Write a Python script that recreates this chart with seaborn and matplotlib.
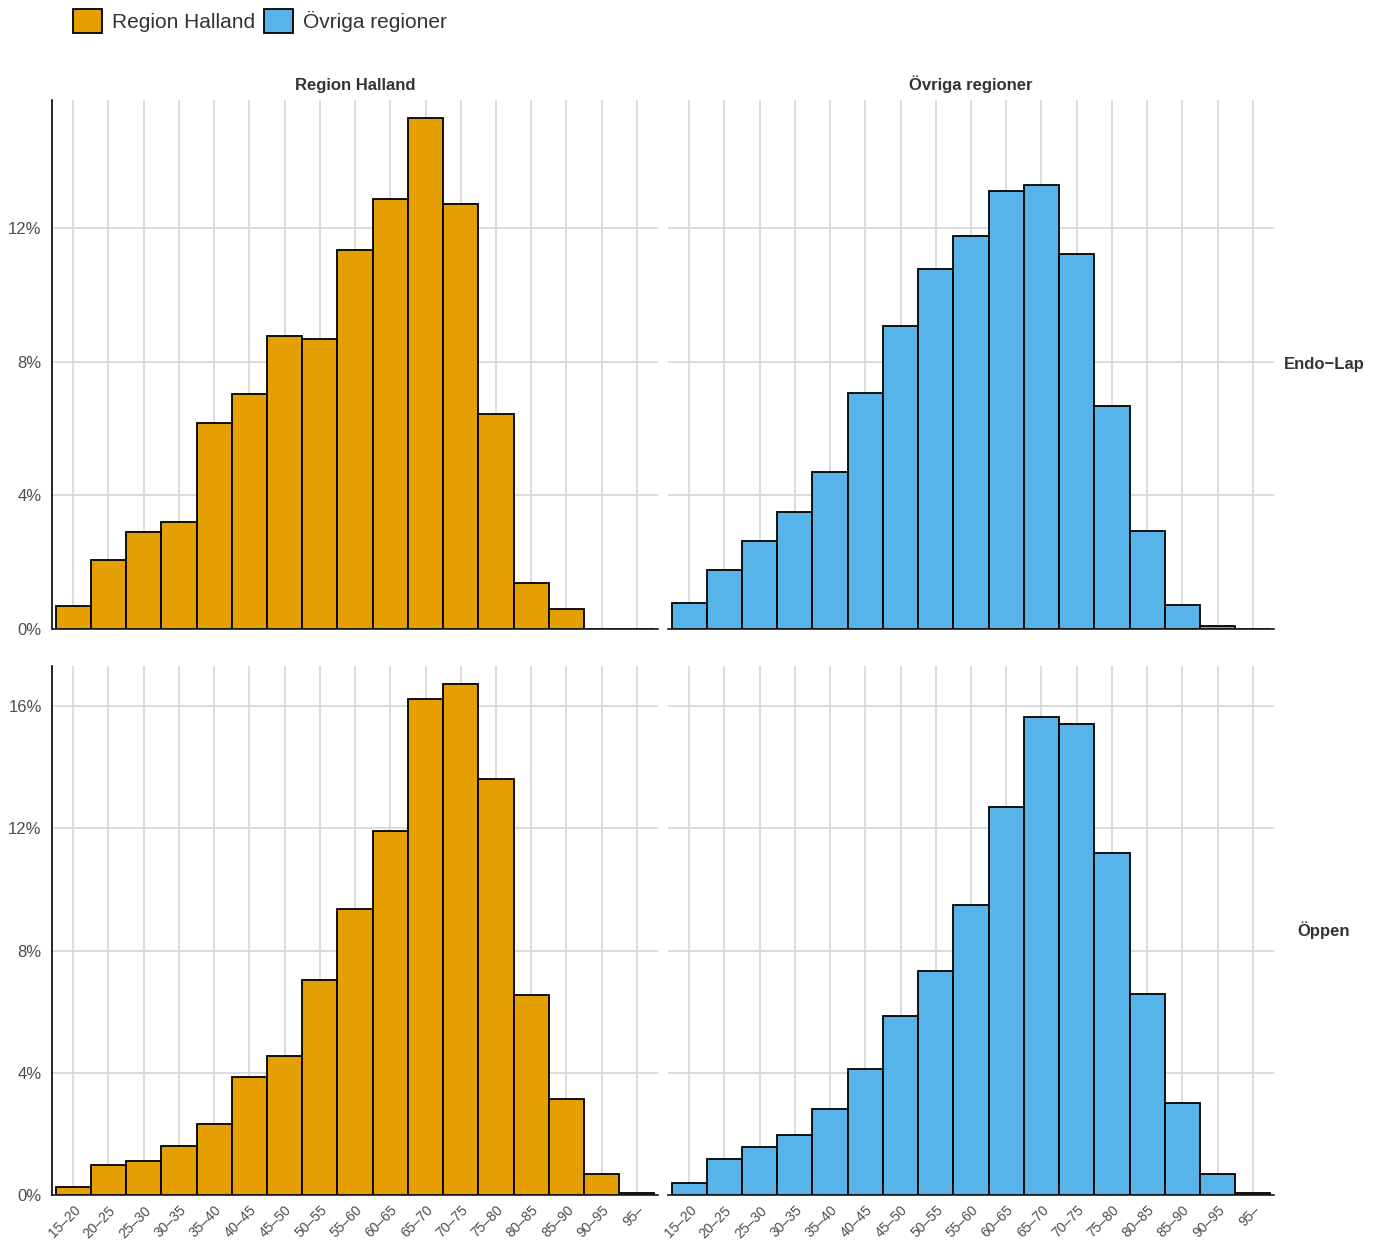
import numpy as np
import pandas as pd
import matplotlib
matplotlib.use("Agg")
import matplotlib.pyplot as plt
from matplotlib.patches import Patch
from matplotlib.ticker import FuncFormatter, MultipleLocator
import seaborn as sns

# ── Data (percent of patients per age group) ──
age_groups = ["15–20", "20–25", "25–30", "30–35", "35–40", "40–45", "45–50",
              "50–55", "55–60", "60–65", "65–70", "70–75", "75–80", "80–85",
              "85–90", "90–95", "95–"]
regions = ["Region Halland", "Övriga regioner"]
methods = ["Endo−Lap", "Öppen"]

halland_endolap = [0.70, 2.08, 2.92, 3.19, 6.18, 7.05, 8.79, 8.70, 11.36,
                   12.89, 15.31, 12.74, 6.45, 1.39, 0.61, 0.0, 0.0]
ovriga_endolap = [0.79, 1.78, 2.65, 3.49, 4.69, 7.08, 9.09, 10.79, 11.78,
                  13.13, 13.31, 11.24, 6.69, 2.95, 0.73, 0.10, 0.01]
halland_oppen = [0.26, 0.98, 1.11, 1.60, 2.32, 3.86, 4.54, 7.03, 9.35,
                 11.90, 16.24, 16.73, 13.63, 6.54, 3.14, 0.69, 0.07]
ovriga_oppen = [0.39, 1.18, 1.57, 1.96, 2.81, 4.12, 5.85, 7.32, 9.48,
                12.71, 15.65, 15.42, 11.21, 6.57, 3.01, 0.69, 0.08]

colors = {"Region Halland": "#E69F00", "Övriga regioner": "#56B4E9"}

series = {
    ("Endo−Lap", "Region Halland"): halland_endolap,
    ("Endo−Lap", "Övriga regioner"): ovriga_endolap,
    ("Öppen", "Region Halland"): halland_oppen,
    ("Öppen", "Övriga regioner"): ovriga_oppen,
}
rows = []
for (m, r), vals in series.items():
    for a, v in zip(age_groups, vals):
        rows.append({"metod": m, "region": r, "alder": a, "andel": v})
df = pd.DataFrame(rows)

# ── Plot ──
sns.set_style("white")
plt.rcParams["font.family"] = ["Liberation Sans", "DejaVu Sans"]

fig, axes = plt.subplots(2, 2, figsize=(13.81, 12.41), dpi=100)
fig.subplots_adjust(left=0.0377, right=0.9225, top=0.9194, bottom=0.0371,
                    wspace=0.0165, hspace=0.07)

grid_col = "#D9D9D9"
for i, m in enumerate(methods):
    row_max = df.loc[df.metod == m, "andel"].max()
    for j, r in enumerate(regions):
        ax = axes[i, j]
        sub = df[(df.metod == m) & (df.region == r)]
        sns.barplot(data=sub, x="alder", y="andel", order=age_groups,
                    color=colors[r], saturation=1, width=1,
                    edgecolor="black", linewidth=1.3, ax=ax)
        ax.set_xlim(-0.6, len(age_groups) - 0.4)
        ax.set_ylim(0, row_max * 1.035)
        ax.yaxis.set_major_locator(MultipleLocator(4))
        ax.yaxis.set_major_formatter(FuncFormatter(lambda v, _: f"{v:.0f}%"))
        ax.set_axisbelow(True)
        ax.grid(True, axis="both", color=grid_col, linewidth=1.3)
        ax.set_xlabel("")
        ax.set_ylabel("")
        for s in ["top", "right"]:
            ax.spines[s].set_visible(False)
        ax.spines["bottom"].set_color("#1A1A1A")
        ax.spines["bottom"].set_linewidth(1.2)
        if j == 0:
            ax.spines["left"].set_color("black")
            ax.spines["left"].set_linewidth(1.2)
        else:
            ax.spines["left"].set_visible(False)
        ax.tick_params(axis="both", length=4, width=1, color="#333333",
                       labelcolor="#4D4D4D", labelsize=12)
        ax.tick_params(axis="x", labelsize=10, pad=2)
        if j == 1:
            ax.tick_params(axis="y", left=False, labelleft=False)
        if i == 0:
            ax.set_title(r, fontsize=12, fontweight="bold", color="#333333",
                         pad=7)
            ax.tick_params(axis="x", bottom=False, labelbottom=False)
        else:
            for lab in ax.get_xticklabels():
                lab.set_rotation(45)
                lab.set_ha("right")
                lab.set_rotation_mode("anchor")

# row strips
for i, m in enumerate(methods):
    pos = axes[i, 1].get_position()
    fig.text(0.9587, (pos.y0 + pos.y1) / 2, m, fontsize=12,
             fontweight="bold", color="#333333", ha="center", va="center")

handles = [Patch(facecolor=colors[r], edgecolor="black", linewidth=1.3,
                 label=r) for r in regions]
fig.legend(handles=handles, loc="upper left", bbox_to_anchor=(0.039, 1.008),
           ncol=2, frameon=False, fontsize=15, handlelength=1.4,
           handleheight=1.4, handletextpad=0.5, columnspacing=0.4,
           labelcolor="#333333")

fig.savefig("out.png", dpi=100)
